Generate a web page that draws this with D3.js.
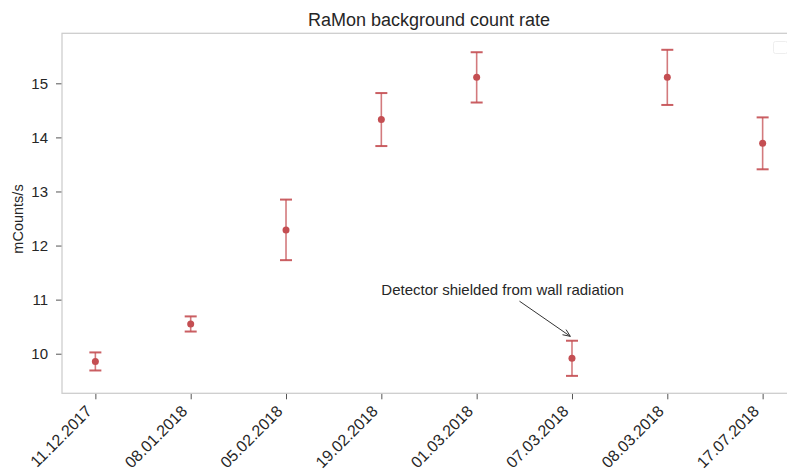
<!DOCTYPE html>
<html>
<head>
<meta charset="utf-8">
<script src="https://cdn.jsdelivr.net/npm/d3@7"></script>
<style>
    body { margin: 0; background: white; }
    text { font-family: "Liberation Sans", Arial, sans-serif; fill: #262626; }
</style>
</head>
<body>
<div class="mainview"></div>
<script>

// data ////////////////////////////

const dates = ["11.12.2017", "08.01.2018", "05.02.2018", "19.02.2018",
               "01.03.2018", "07.03.2018", "08.03.2018", "17.07.2018"];
const rates = [9.857, 10.55, 12.29, 14.33, 15.11, 9.915, 15.11, 13.89];
const errors = [0.167, 0.14, 0.56, 0.49, 0.465, 0.325, 0.51, 0.48];
const yTicks = [10, 11, 12, 13, 14, 15];
const yDomain = [9.268, 15.925];

const title = "RaMon background count rate";
const yLabel = "mCounts/s";
const noteText = "Detector shielded from wall radiation";
const noteAt = [3.0, 11.085];      // text position (index, value)
const noteTarget = [5, 10.3];      // arrow target (index, value)

// layout //////////////////////////////////////////////////

const dim = { width: 787, height: 472 };
const margin = { top: 33.3, right: -9, bottom: 78.7, left: 62 };
const red = "#c44e52";

const x = d3.scaleLinear()
    .domain([-0.35, dates.length - 1 + 0.35])
    .range([margin.left, dim.width - margin.right]);

const y = d3.scaleLinear()
    .domain(yDomain)
    .range([dim.height - margin.bottom, margin.top]);

drawChart();

function drawChart() {

    const svg = d3.select(".mainview").append("svg")
        .attr("width", dim.width)
        .attr("height", dim.height)
        .attr("viewBox", [0, 0, dim.width, dim.height]);

    // title and labels

    svg.append("text")
        .attr("x", (margin.left + dim.width - margin.right) / 2)
        .attr("y", 26)
        .attr("text-anchor", "middle")
        .style("font-size", "18px")
        .text(title);

    svg.append("text")
        .attr("transform", `translate(23, 219) rotate(-90)`)
        .attr("text-anchor", "middle")
        .style("font-size", "14.5px")
        .text(yLabel);

    // axes

    const xAxis = d3.axisBottom(x)
        .tickValues(d3.range(dates.length))
        .tickFormat(i => dates[i])
        .tickSize(6)
        .tickPadding(0);

    svg.append("g")
        .attr("transform", `translate(0, ${ y.range()[0] })`)
        .call(xAxis)
        .call(g => g.select(".domain").remove())
        .call(g => g.selectAll(".tick line").attr("stroke", "#555"))
        .call(g => g.selectAll(".tick text")
            .attr("fill", "#262626")
            .style("font-size", "16px")
            .attr("text-anchor", "end")
            .attr("dy", null)
            .attr("y", null)
            .attr("transform", "translate(-3, 19) rotate(-45)"));

    const yAxis = d3.axisLeft(y)
        .tickValues(yTicks)
        .tickFormat(d3.format("d"))
        .tickSize(6)
        .tickPadding(8);

    svg.append("g")
        .attr("transform", `translate(${ margin.left }, 0)`)
        .call(yAxis)
        .call(g => g.select(".domain").remove())
        .call(g => g.selectAll(".tick line").attr("stroke", "#555"))
        .call(g => g.selectAll(".tick text")
            .attr("fill", "#262626")
            .style("font-size", "15px"));

    // frame (spines)

    svg.append("rect")
        .attr("x", margin.left)
        .attr("y", margin.top)
        .attr("width", dim.width - margin.right - margin.left)
        .attr("height", y.range()[0] - margin.top)
        .attr("fill", "none")
        .attr("stroke", "#cccccc")
        .attr("stroke-width", 1.25);

    // empty legend frame, upper right

    svg.append("rect")
        .attr("x", 773.5).attr("y", 41.5)
        .attr("width", 14).attr("height", 12)
        .attr("rx", 2)
        .attr("fill", "white")
        .attr("stroke", "#eeeeee");

    // error bars

    const bars = svg.append("g")
        .selectAll("g")
        .data(rates.map((r, i) => ({ i, r, e: errors[i] })))
        .join("g");

    bars.append("line")
        .attr("x1", d => x(d.i)).attr("x2", d => x(d.i))
        .attr("y1", d => y(d.r + d.e)).attr("y2", d => y(d.r - d.e))
        .attr("stroke", red)
        .attr("stroke-opacity", 0.75)
        .attr("stroke-width", 1.6);

    bars.selectAll(".cap")
        .data(d => [d.r + d.e, d.r - d.e].map(v => ({ i: d.i, v })))
        .join("line")
        .attr("class", "cap")
        .attr("x1", d => x(d.i) - 6).attr("x2", d => x(d.i) + 6)
        .attr("y1", d => y(d.v)).attr("y2", d => y(d.v))
        .attr("stroke", red)
        .attr("stroke-opacity", 0.9)
        .attr("stroke-width", 2);

    bars.append("circle")
        .attr("cx", d => x(d.i))
        .attr("cy", d => y(d.r))
        .attr("r", 3.5)
        .attr("fill", red);

    // annotation with arrow

    const note = svg.append("text")
        .attr("x", x(noteAt[0]))
        .attr("y", y(noteAt[1]))
        .style("font-size", "15px")
        .text(noteText);

    const box = note.node().getBBox();
    const cx = box.x + box.width / 2, cy = box.y + box.height / 2;
    const tx = x(noteTarget[0]), ty = y(noteTarget[1]);
    const dx = tx - cx, dy = ty - cy;
    const len = Math.hypot(dx, dy);
    // leave the text box through its bottom edge, then shrink both ends
    const t0 = (box.y + box.height + 2 - cy) / dy;
    const ux = dx / len, uy = dy / len;
    const x0 = cx + dx * t0 + ux * 2, y0 = cy + dy * t0 + uy * 2;
    const x1 = tx - ux * 2, y1 = ty - uy * 2;

    svg.append("path")
        .attr("d", d3.line()([[x0, y0], [x1, y1]]))
        .attr("stroke", "#333")
        .attr("fill", "none");

    const head = 8, spread = 0.4;
    const ang = Math.atan2(uy, ux);
    svg.append("path")
        .attr("d", d3.line()([
            [x1 - head * Math.cos(ang - spread), y1 - head * Math.sin(ang - spread)],
            [x1, y1],
            [x1 - head * Math.cos(ang + spread), y1 - head * Math.sin(ang + spread)]
        ]))
        .attr("stroke", "#333")
        .attr("fill", "none");
}

</script>
</body>
</html>
